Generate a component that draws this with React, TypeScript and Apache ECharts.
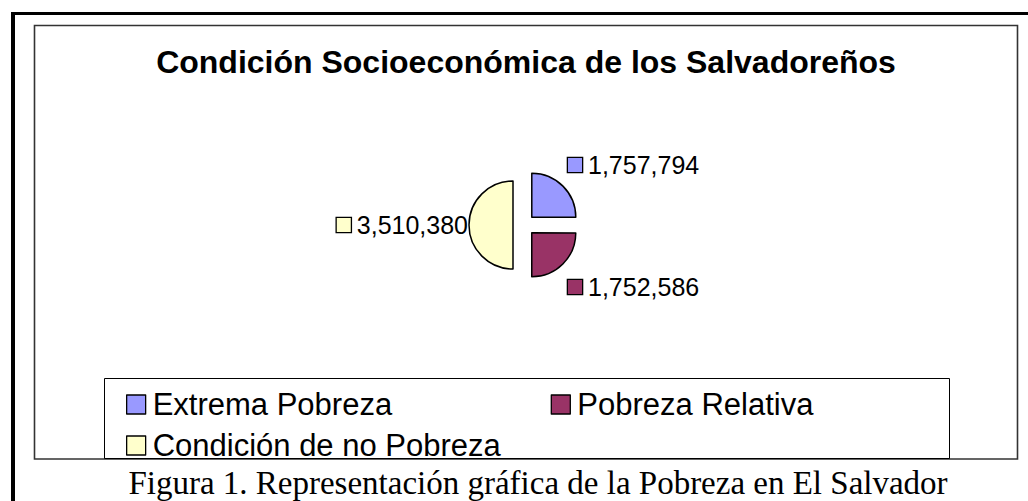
import React, { useEffect, useRef } from "react";
import * as echarts from "echarts";

const titleText = "Condición Socioeconómica de los Salvadoreños";
const captionText = "Figura 1. Representación gráfica de la Pobreza en El Salvador";
const categories = ["Extrema Pobreza", "Pobreza Relativa", "Condición de no Pobreza"];
const values = [1757794, 1752586, 3510380];
const colors = ["#9999FF", "#993366", "#FFFFCC"];

const fmt = (v: number) => v.toLocaleString("en-US");

const CX = 524;
const CY = 225;
// label anchor offsets relative to the pie centre (style only)
const labelAnchors = [
  { dx: 44, dy: -60, align: "left" },
  { dx: 44, dy: 62, align: "left" },
  { dx: -56, dy: 0, align: "right" },
];

export default function App() {
  const ref = useRef<HTMLDivElement>(null);
  useEffect(() => {
    if (!ref.current) return;
    const chart = echarts.init(ref.current, null, { renderer: "svg" });
    const rich: any = {
      v: { fontSize: 25, fontFamily: "Liberation Sans", fill: "#000", padding: [0, 0, 0, 6] },
    };
    colors.forEach((c, i) => {
      rich["sq" + i] = { width: 14, height: 14, backgroundColor: c, borderColor: "#000", borderWidth: 1.3 };
    });
    const labelGraphics = values.map((v, i) => ({
      type: "text",
      x: CX + labelAnchors[i].dx,
      y: CY + labelAnchors[i].dy,
      style: {
        text: `{sq${i}|}{v|${fmt(v)}}`,
        rich,
        align: labelAnchors[i].align,
        verticalAlign: "middle",
        fill: "#000",
        font: '25px "Liberation Sans"',
      },
    }));
    chart.setOption({
      animation: false,
      backgroundColor: "#fff",
      graphic: [
        { type: "rect", shape: { x: 11, y: 12, width: 1017, height: 3 }, style: { fill: "#000" } },
        { type: "rect", shape: { x: 11, y: 12, width: 4, height: 489 }, style: { fill: "#000" } },
        {
          type: "rect",
          shape: { x: 34.5, y: 25.5, width: 983, height: 433.5 },
          style: { fill: "none", stroke: "#333", lineWidth: 1.6 },
        },
        {
          type: "rect",
          shape: { x: 104.5, y: 378.5, width: 845, height: 80 },
          style: { fill: "none", stroke: "#000", lineWidth: 1 },
        },
        {
          type: "text",
          x: 526,
          y: 62,
          style: {
            text: titleText,
            font: 'bold 32px "Liberation Sans"',
            fill: "#000",
            align: "center",
            verticalAlign: "middle",
          },
        },
        {
          type: "text",
          x: 538,
          y: 483,
          style: {
            text: captionText,
            font: '33px "Liberation Serif"',
            fill: "#000",
            align: "center",
            verticalAlign: "middle",
          },
        },
        ...labelGraphics,
      ],
      legend: {
        data: categories,
        left: 126,
        top: 389,
        width: 850,
        padding: 0,
        itemGap: 10,
        itemWidth: 19,
        itemHeight: 19,
        icon: "rect",
        selectedMode: false,
        itemStyle: { borderColor: "#000", borderWidth: 1.3 },
        textStyle: {
          fontSize: 31,
          fontFamily: "Liberation Sans",
          color: "#000",
          width: 388,
          lineHeight: 22,
          padding: [0, 0, 0, 2],
        },
      },
      series: [
        {
          type: "pie",
          center: [CX, CY],
          radius: 44,
          startAngle: 90,
          clockwise: true,
          selectedMode: "multiple",
          selectedOffset: 11,
          silent: true,
          itemStyle: { borderColor: "#000", borderWidth: 1.5 },
          emphasis: { disabled: true },
          labelLine: { show: false },
          label: { show: false },
          data: categories.map((name, i) => ({
            name,
            value: values[i],
            selected: true,
            itemStyle: { color: colors[i] },
          })),
        },
      ],
    });
    return () => chart.dispose();
  }, []);
  return (
    <div
      ref={ref}
      style={{ position: "absolute", left: 0, top: 0, width: 1028, height: 501 }}
    />
  );
}
